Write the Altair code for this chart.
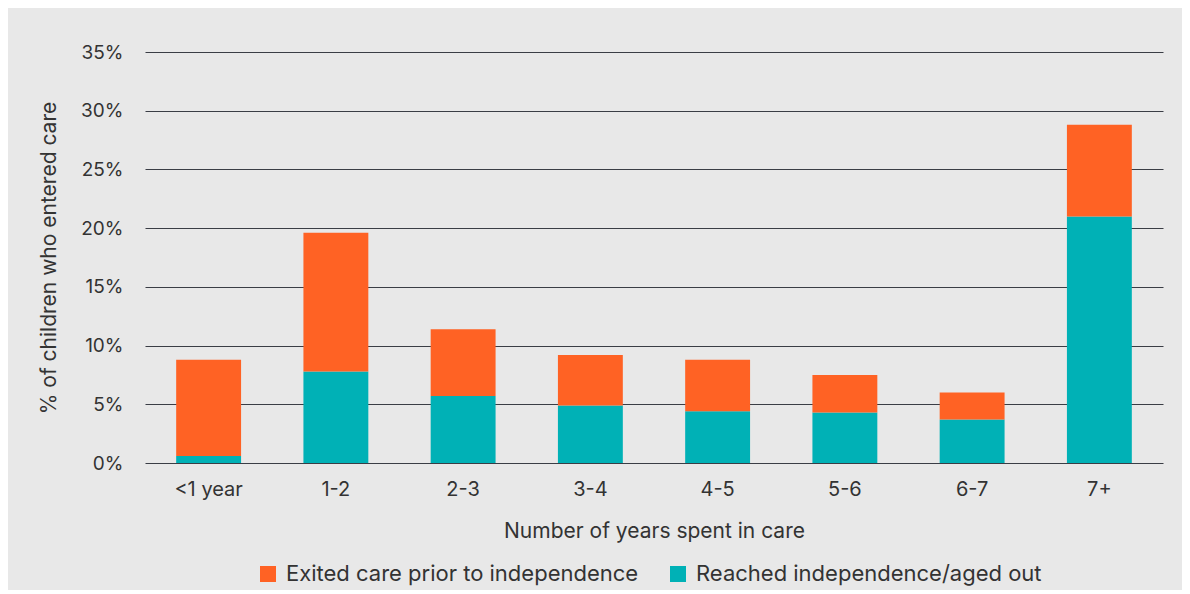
import altair as alt
import pandas as pd

categories = ["<1 year", "1-2", "2-3", "3-4", "4-5", "5-6", "6-7", "7+"]
reached = [0.6, 7.8, 5.7, 4.9, 4.4, 4.3, 3.7, 21.0]
exited = [8.2, 11.8, 5.7, 4.3, 4.4, 3.2, 2.3, 7.8]
series = ["Exited care prior to independence", "Reached independence/aged out"]
y_ticks = [0, 5, 10, 15, 20, 25, 30, 35]

rows = []
for c, r, e in zip(categories, reached, exited):
    rows.append({"cat": c, "series": series[1], "value": r, "ord": 0})
    rows.append({"cat": c, "series": series[0], "value": e, "ord": 1})
df = pd.DataFrame(rows)

FONT = "Inter"
TXT = "#333333"

chart = alt.Chart(df).mark_bar().encode(
    x=alt.X("cat:N", sort=categories,
            scale=alt.Scale(paddingInner=0.49, paddingOuter=0.245),
            axis=alt.Axis(title="Number of years spent in care", labelAngle=0,
                          labelPadding=16, titlePadding=21, ticks=False, domain=False,
                          labelFontSize=20, titleFontSize=21, labelColor=TXT, titleColor=TXT,
                          labelFont=FONT, titleFont=FONT, titleFontWeight="normal")),
    y=alt.Y("value:Q", stack="zero",
            scale=alt.Scale(domain=[0, 35], nice=False),
            axis=alt.Axis(title="% of children who entered care", values=y_ticks,
                          labelExpr="datum.value + '%'", ticks=False, domain=False,
                          labelPadding=22, titlePadding=21,
                          grid=True, gridColor="#3a3d45", gridWidth=1,
                          labelFontSize=19, titleFontSize=21, labelColor=TXT, titleColor=TXT,
                          labelFont=FONT, titleFont=FONT, titleFontWeight="normal")),
    color=alt.Color("series:N",
                    scale=alt.Scale(domain=series, range=["#FF6224", "#00B1B6"]),
                    legend=alt.Legend(title=None, orient="none", direction="horizontal",
                                      legendX=112, legendY=511,
                                      symbolType="square", symbolSize=256, symbolStrokeWidth=0,
                                      symbolOpacity=1, labelLimit=0,
                                      labelFontSize=22, labelFont=FONT, labelColor=TXT,
                                      columnPadding=28, labelOffset=7)),
    order=alt.Order("ord:Q"),
).properties(
    width=1018, height=411,
    background="#e8e8e8",
    padding={"left": 137, "top": 44, "right": 19, "bottom": 127},
    autosize=alt.AutoSizeParams(type="none"),
).configure_view(stroke=None).configure_axis(gridOpacity=1)

chart.save("out.html", embed_options={"renderer": "svg", "actions": False})
